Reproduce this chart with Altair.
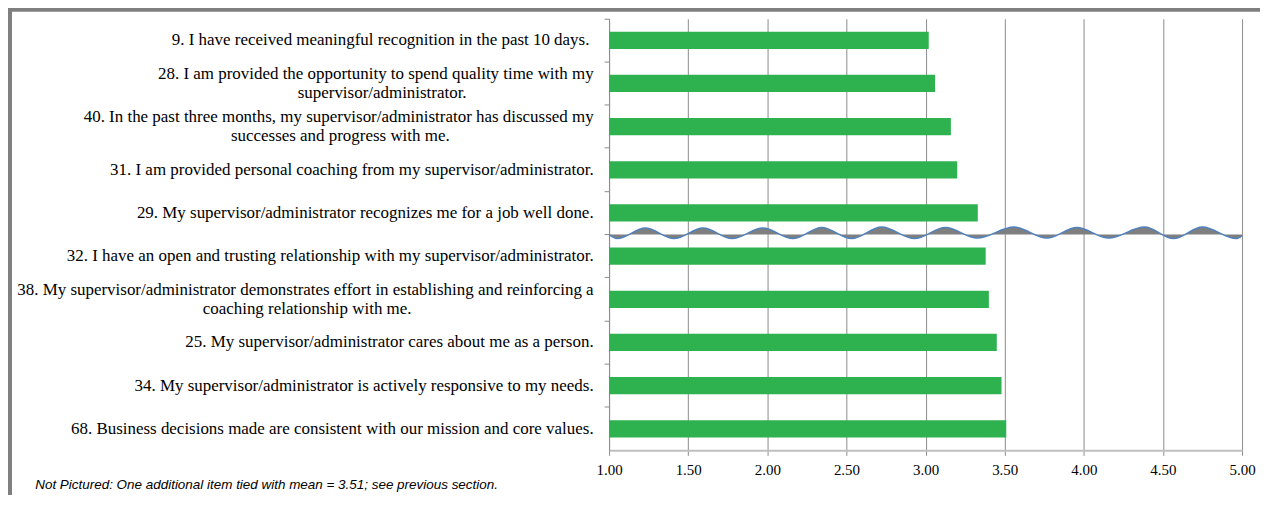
import altair as alt
import pandas as pd

# ---- data ----
items = [
    ["9. I have received meaningful recognition in the past 10 days."],
    ["28. I am provided the opportunity to spend quality time with my", "supervisor/administrator."],
    ["40. In the past three months, my supervisor/administrator has discussed my", "successes and progress with me."],
    ["31. I am provided personal coaching from my supervisor/administrator."],
    ["29. My supervisor/administrator recognizes me for a job well done."],
    ["32. I have an open and trusting relationship with my supervisor/administrator."],
    ["38. My supervisor/administrator demonstrates effort in establishing and reinforcing a", "coaching relationship with me."],
    ["25. My supervisor/administrator cares about me as a person."],
    ["34. My supervisor/administrator is actively responsive to my needs."],
    ["68. Business decisions made are consistent with our mission and core values."],
]
means = [3.02, 3.06, 3.16, 3.20, 3.33, 3.38, 3.40, 3.45, 3.48, 3.51]
# trailing non-breaking spaces on the last line (centres the wrapped second lines)
label_pad = [1, 30, 34, 0, 0, 0, 43, 0, 0, 0]
x_ticks = [1.0, 1.5, 2.0, 2.5, 3.0, 3.5, 4.0, 4.5, 5.0]
note = "Not Pictured: One additional item tied with mean = 3.51; see previous section."

# scale-break decoration (wavy line) control points
wave_x = [1.00, 1.052, 1.229, 1.411, 1.594, 1.777, 1.972, 2.161, 2.344, 2.533, 2.722,
          2.93, 3.125, 3.326, 3.559, 3.767, 3.956, 4.157, 4.384, 4.567, 4.749, 4.963, 5.00]
wave_h = [0, -4, 6.5, -4, 6.5, -4, 6.5, -4, 7, -4, 7.5, -4, 7, -3.5, 7.5, -3.5, 7,
          -3.5, 7.5, -4, 7.5, -4, -1]

W, H = 635, 433

labels = []
for lines, p in zip(items, label_pad):
    ls = list(lines)
    if p:
        ls[-1] = ls[-1] + "\u00a0" * p + "\u200b"
    labels.append("|".join(ls))

df = pd.DataFrame({"item": labels, "mean": means})
wave = pd.DataFrame({"x": wave_x, "h": wave_h})

serif = "Liberation Serif"
xscale = alt.Scale(domain=[1, 5], nice=False, zero=False)

bars = alt.Chart(df).mark_bar(
    color="#2eb24f", height=alt.RelativeBandSize(0.4)
).encode(
    x=alt.X("mean:Q", scale=xscale,
            axis=alt.Axis(values=x_ticks, format=".2f", title=None,
                          grid=True, gridColor="#8c8c8c", gridWidth=1,
                          domainColor="#bfbfbf", domainWidth=2,
                          tickColor="#8c8c8c", tickSize=5,
                          labelFont=serif, labelFontSize=15, labelColor="#000000",
                          labelFlush=False, labelPadding=7)),
    x2=alt.datum(1),
    y=alt.Y("item:N", sort=labels,
            scale=alt.Scale(paddingInner=0, paddingOuter=0),
            axis=alt.Axis(title=None, grid=False, bandPosition=0,
                          domainColor="#8c8c8c", tickColor="#8c8c8c", tickSize=5,
                          labelFont=serif, labelFontSize=17, labelColor="#000000",
                          labelPadding=11, labelLimit=2000, labelLineHeight=19,
                          labelOffset=alt.condition("indexof(datum.label, '|') >= 0",
                                                    alt.value(-9.5), alt.value(0)),
                          labelExpr="split(datum.label, '|')")),
)

wavy = alt.Chart(wave).mark_area(
    interpolate="monotone", color="#7f7f7f", opacity=1,
    line={"color": "#4f81bd", "strokeWidth": 1.5}
).encode(
    x=alt.X("x:Q", scale=xscale),
    y=alt.Y("h:Q", scale=alt.Scale(domain=[-H / 2, H / 2], nice=False, zero=False), axis=None),
    y2=alt.datum(0),
)

deco = alt.Data(values=[{"k": 1}])
frame = alt.Chart(deco).mark_rect(
    filled=False, stroke="#7f7f7f", strokeWidth=4
).encode(
    x=alt.value(-601), y=alt.value(-9), x2=alt.value(700), y2=alt.value(600)
)

footnote = alt.Chart(deco).mark_text(
    align="left", baseline="middle", font="Liberation Sans",
    fontStyle="italic", fontSize=13.5, color="#000000"
).encode(
    x=alt.value(-575.7), y=alt.value(468), text=alt.value(note)
)

chart = alt.layer(bars, wavy, frame, footnote).resolve_scale(
    y="independent"
).properties(
    width=W, height=H,
    autosize=alt.AutoSizeParams(type="none"),
    padding={"left": 603, "top": 10, "right": 18, "bottom": 44},
    background="#ffffff",
).configure_view(stroke=None)

chart.save("out.html", embed_options={"renderer": "svg", "actions": False})
